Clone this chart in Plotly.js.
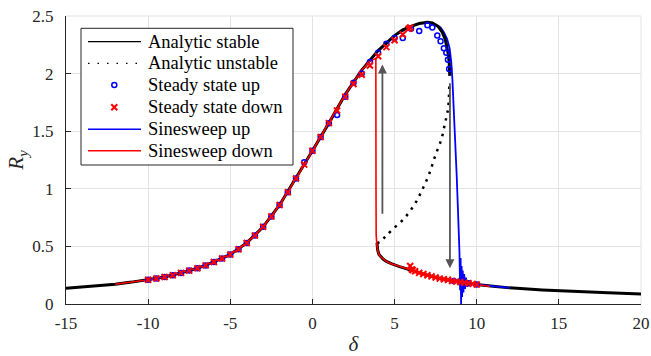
<!DOCTYPE html>
<html><head><meta charset="utf-8">
<script src="https://cdn.plot.ly/plotly-3.0.1.min.js"></script>
<style>html,body{margin:0;padding:0;background:#fff}#chart{width:651px;height:356px}</style>
</head><body><div id="chart"></div>
<script>
// ---- Analytic stable, upper branch
const dStableUpper = [-15,-14,-13,-12,-11,-10,-9,-8,-7,-6,-5,-4,-3,-2,-1,0,1,2,3,4,5,5.5,6,6.5,7,7.3,7.65,7.9,8.08,8.2,8.28,8.33,8.36];
const rStableUpper = [0.136,0.146,0.158,0.172,0.19,0.21,0.235,0.27,0.31,0.365,0.43,0.53,0.67,0.86,1.09,1.33,1.57,1.82,2.03,2.2,2.33,2.38,2.41,2.435,2.445,2.44,2.41,2.36,2.3,2.23,2.16,2.08,1.98];
// ---- Analytic stable, lower branch
const dStableLower = [3.93,3.97,4.05,4.15,4.3,4.5,4.8,5.3,6,7,8,9,10,11,12,14,16,18,20];
const rStableLower = [0.53,0.47,0.43,0.41,0.39,0.37,0.35,0.325,0.295,0.25,0.215,0.19,0.17,0.155,0.14,0.122,0.108,0.097,0.087];
// ---- Analytic unstable
const dUnstable = [3.93,4.11,4.41,4.82,5.57,6.24,6.71,7.11,7.46,7.87,8.07,8.17,8.27,8.33];
const rUnstable = [0.53,0.54,0.58,0.64,0.74,0.87,1.0,1.13,1.28,1.44,1.57,1.63,1.71,1.89];
// ---- Sinesweep up
const dSweepUp = [-12,-11,-10,-9,-8,-7,-6,-5,-4,-3,-2,-1,0,1,2,3,4,5,6,6.5,7,7.5,7.8,8.0,8.2,8.35,8.45,8.52,8.58,8.64,8.7,8.78,8.85,8.9,8.95,8.99,9.02,9.05,9.08,9.11,9.15,9.19,9.24,9.29,9.35,9.42,9.5,9.6,10,11,12];
const rSweepUp = [0.172,0.19,0.21,0.235,0.27,0.31,0.365,0.43,0.53,0.67,0.86,1.09,1.33,1.57,1.82,2.03,2.2,2.33,2.41,2.435,2.44,2.425,2.40,2.36,2.3,2.22,2.1,1.95,1.78,1.6,1.42,1.12,0.85,0.68,0.45,0.12,0.40,0.0,0.33,0.06,0.29,0.10,0.26,0.13,0.23,0.15,0.20,0.175,0.17,0.155,0.14];
// ---- Sinesweep down
const dSweepDown = [10.8,10,9,8,7,6,5.3,4.8,4.5,4.3,4.15,4.05,3.97,3.92,3.88,3.87,3.86,3.5,3,2,1,0,-1,-2,-3,-4,-5,-6,-7,-8,-9,-10,-11,-12];
const rSweepDown = [0.152,0.17,0.19,0.215,0.25,0.295,0.325,0.35,0.37,0.39,0.41,0.43,0.47,0.52,0.6,1.0,2.13,2.11,2.03,1.82,1.57,1.33,1.09,0.86,0.67,0.53,0.43,0.365,0.31,0.27,0.235,0.21,0.19,0.172];
// ---- Steady state up (circles)
const dSteadyUp = [-10,-9.5,-9,-8.5,-8,-7.5,-7,-6.5,-6,-5.5,-5,-4.5,-4,-3.5,-3,-2.5,-2,-1.5,-1,-0.5,0,0.5,1,1.5,2,2.5,3,3.5,4,4.5,5,5.5,6,6.5,7,7.3,7.6,7.8,8.0,8.15,8.25,8.32,8.6,9.0,9.5,10];
const rSteadyUp = [0.21,0.222,0.235,0.25,0.27,0.29,0.31,0.335,0.365,0.395,0.43,0.475,0.53,0.595,0.67,0.76,0.86,0.97,1.09,1.23,1.33,1.45,1.57,1.64,1.8,1.92,2.0,2.1,2.18,2.26,2.31,2.31,2.39,2.37,2.42,2.4,2.33,2.28,2.22,2.18,2.12,2.04,0.2,0.19,0.18,0.17];
// ---- Steady state down (crosses)
const dSteadyDown = [-10,-9.5,-9,-8.5,-8,-7.5,-7,-6.5,-6,-5.5,-5,-4.5,-4,-3.5,-3,-2.5,-2,-1.5,-1,-0.5,0,0.5,1,1.5,2,2.5,3,3.5,4,4.5,5,5.5,5.85,5.95,5.95,6.05,6.1,6.25,6.5,6.75,7,7.25,7.5,7.75,8,8.25,8.5,8.75,9,9.25,9.5,9.75,10];
const rSteadyDown = [0.21,0.222,0.235,0.25,0.27,0.29,0.31,0.335,0.365,0.395,0.43,0.475,0.53,0.595,0.67,0.76,0.86,0.97,1.09,1.21,1.33,1.45,1.57,1.68,1.8,1.91,1.99,2.07,2.15,2.23,2.29,2.34,2.39,2.4,0.33,0.3,0.295,0.285,0.27,0.26,0.25,0.24,0.23,0.22,0.215,0.21,0.2,0.195,0.19,0.185,0.18,0.175,0.17];
// ---- Ticks
const xTickVals = [-15,-10,-5,0,5,10,15,20];
const xTickText = ['-15','-10','-5','0','5','10','15','20'];
const yTickVals = [0,0.5,1,1.5,2,2.5];
const yTickText = ['0','0.5','1','1.5','2','2.5'];
const legendLabels = ['Analytic stable','Analytic unstable','Steady state up','Steady state down','Sinesweep up','Sinesweep down'];

const FONT = 'Liberation Serif';
const BLUE = '#0000ff', RED = '#ff0000', BLACK = '#000000';

const traces = [
  {x: dStableLower, y: rStableLower, mode: 'lines', line: {color: BLACK, width: 3}, showlegend: false},
  {x: dUnstable, y: rUnstable, mode: 'lines', line: {color: BLACK, width: 2.5, dash: '2.5px,5.5px', shape: 'spline'}, showlegend: false},
  {x: dSweepUp, y: rSweepUp, mode: 'lines', line: {color: BLUE, width: 1.8}, showlegend: false},
  {x: dStableUpper, y: rStableUpper, mode: 'lines', line: {color: BLACK, width: 3}, showlegend: false},
  {x: dSweepDown, y: rSweepDown, mode: 'lines', line: {color: RED, width: 1.6}, showlegend: false},
  {x: dSteadyUp, y: rSteadyUp, mode: 'markers', marker: {symbol: 'circle-open', size: 5, color: BLUE, line: {width: 1.5, color: BLUE}}, showlegend: false},
  {x: dSteadyDown, y: rSteadyDown, mode: 'markers', marker: {symbol: 'x-thin', size: 6, color: RED, line: {width: 2, color: RED}}, showlegend: false}
];

// manual legend (paper coordinates)
const px = v => (v - 66) / 575;
const py = v => (304 - v) / 288;
const rowY = [41.7, 63.3, 85, 107.3, 129.3, 150.7];
const shapes = [
  {type: 'line', xref: 'paper', yref: 'paper', x0: 1, x1: 1, y0: 0, y1: 1, line: {color: '#e3e3e3', width: 1}, layer: 'below'},
  {type: 'line', xref: 'paper', yref: 'paper', x0: 0, x1: 1, y0: 1, y1: 1, line: {color: '#e3e3e3', width: 1}, layer: 'below'},
  {type: 'rect', xref: 'paper', yref: 'paper', x0: px(81), x1: px(293), y0: py(165), y1: py(28.3), fillcolor: '#ffffff', line: {color: '#262626', width: 1}, layer: 'above'},
  {type: 'line', xref: 'paper', yref: 'paper', x0: px(88), x1: px(141), y0: py(rowY[0]), y1: py(rowY[0]), line: {color: BLACK, width: 1.2}},
  {type: 'line', xref: 'paper', yref: 'paper', x0: px(88), x1: px(141), y0: py(rowY[1]), y1: py(rowY[1]), line: {color: BLACK, width: 1.2, dash: '1.5px,8px'}},
  {type: 'circle', xref: 'paper', yref: 'paper', x0: px(114.3-2.5), x1: px(114.3+2.5), y0: py(rowY[2]+2.5), y1: py(rowY[2]-2.5), line: {color: BLUE, width: 1.5}},
  {type: 'line', xref: 'paper', yref: 'paper', x0: px(111.3), x1: px(117.3), y0: py(rowY[3]-3), y1: py(rowY[3]+3), line: {color: RED, width: 2}},
  {type: 'line', xref: 'paper', yref: 'paper', x0: px(111.3), x1: px(117.3), y0: py(rowY[3]+3), y1: py(rowY[3]-3), line: {color: RED, width: 2}},
  {type: 'line', xref: 'paper', yref: 'paper', x0: px(88), x1: px(141), y0: py(rowY[4]), y1: py(rowY[4]), line: {color: BLUE, width: 1.5}},
  {type: 'line', xref: 'paper', yref: 'paper', x0: px(88), x1: px(141), y0: py(rowY[5]), y1: py(rowY[5]), line: {color: RED, width: 1.5}}
];
const annotations = legendLabels.map((t, i) => ({
  text: t, xref: 'paper', yref: 'paper', x: px(146), y: py(rowY[i]), xanchor: 'left', yanchor: 'middle',
  showarrow: false, font: {family: FONT, size: 18.5, color: '#000'}
}));
// jump arrows
annotations.push({x: 4.26, y: 2.08, ax: 4.26, ay: 0.77, xref: 'x', yref: 'y', axref: 'x', ayref: 'y', showarrow: true, arrowhead: 2, arrowsize: 1, arrowwidth: 1.8, arrowcolor: '#555555', text: ''});
annotations.push({x: 8.37, y: 0.31, ax: 8.37, ay: 1.93, xref: 'x', yref: 'y', axref: 'x', ayref: 'y', showarrow: true, arrowhead: 2, arrowsize: 1, arrowwidth: 1.8, arrowcolor: '#555555', text: ''});

const layout = {
  width: 651, height: 356,
  margin: {l: 66, r: 10, t: 16, b: 52},
  paper_bgcolor: '#ffffff', plot_bgcolor: '#ffffff',
  showlegend: false,
  font: {family: FONT},
  xaxis: {
    range: [-15, 20], tickvals: xTickVals, ticktext: xTickText,
    ticks: 'inside', ticklen: 5, tickcolor: '#262626', tickwidth: 1,
    showline: true, linecolor: '#262626', linewidth: 1,
    showgrid: true, gridcolor: '#e3e3e3', gridwidth: 1, zeroline: false,
    tickfont: {family: FONT, size: 17, color: '#262626'}, ticklabelstandoff: 4,
    title: {text: '<i>δ</i>', font: {family: FONT, size: 21, color: '#262626'}, standoff: 4}
  },
  yaxis: {
    range: [0, 2.5], tickvals: yTickVals, ticktext: yTickText,
    ticks: 'inside', ticklen: 5, tickcolor: '#262626', tickwidth: 1,
    showline: true, linecolor: '#262626', linewidth: 1,
    showgrid: true, gridcolor: '#e3e3e3', gridwidth: 1, zeroline: false,
    tickfont: {family: FONT, size: 17, color: '#262626'}, ticklabelstandoff: 8,
    title: {text: '<i>R</i><sub><i>y</i></sub>', font: {family: FONT, size: 21, color: '#262626'}, standoff: 2}
  },
  shapes: shapes,
  annotations: annotations
};
Plotly.newPlot('chart', traces, layout, {displayModeBar: false, staticPlot: true});
</script></body></html>
